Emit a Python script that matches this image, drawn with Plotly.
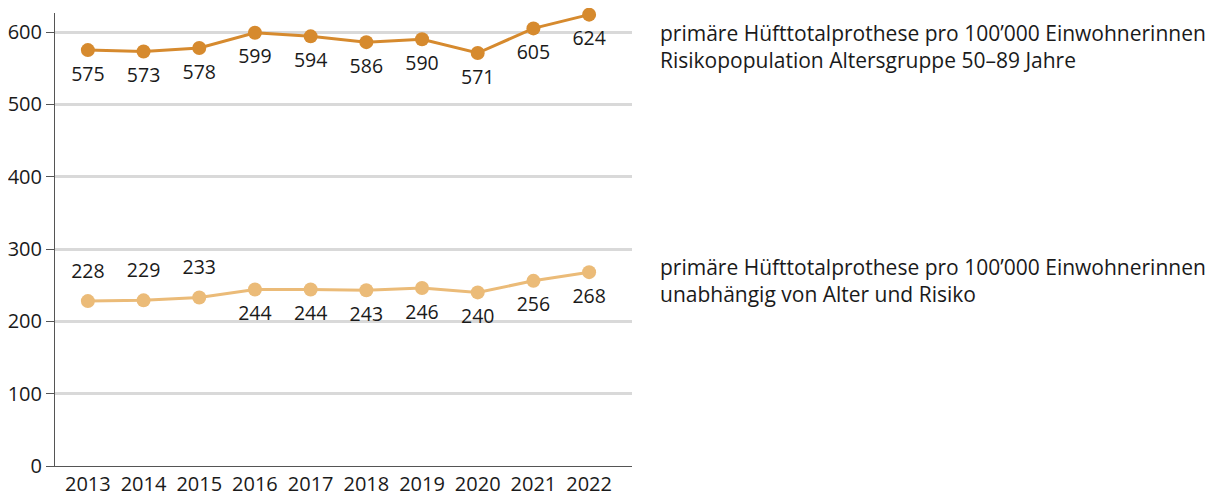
import plotly.graph_objects as go

years = [2013, 2014, 2015, 2016, 2017, 2018, 2019, 2020, 2021, 2022]
risk_pop = [575, 573, 578, 599, 594, 586, 590, 571, 605, 624]
all_pop = [228, 229, 233, 244, 244, 243, 246, 240, 256, 268]
all_pop_label_pos = ["top center"] * 3 + ["bottom center"] * 7

label_risk = "primäre Hüfttotalprothese pro 100’000 Einwohnerinnen<br>Risikopopulation Altersgruppe 50–89 Jahre"
label_all = "primäre Hüfttotalprothese pro 100’000 Einwohnerinnen<br>unabhängig von Alter und Risiko"

dark = "#D68A2E"
light = "#EBBB78"
font_family = "Open Sans"
text_color = "#1a1a1a"
label_font = dict(size=19.5, color=text_color, family=font_family)

fig = go.Figure()
# lines with markers
fig.add_trace(go.Scatter(
    x=years, y=risk_pop, mode="lines+markers",
    line=dict(color=dark, width=3), marker=dict(color=dark, size=14),
    cliponaxis=False, showlegend=False, hoverinfo="x+y"))
fig.add_trace(go.Scatter(
    x=years, y=all_pop, mode="lines+markers",
    line=dict(color=light, width=3), marker=dict(color=light, size=14),
    cliponaxis=False, showlegend=False, hoverinfo="x+y"))
# value labels (invisible spacer markers control the label distance)
fig.add_trace(go.Scatter(
    x=years, y=risk_pop, mode="markers+text",
    marker=dict(size=24, opacity=0),
    text=[str(v) for v in risk_pop], textposition="bottom center",
    textfont=label_font, cliponaxis=False, showlegend=False, hoverinfo="skip"))
fig.add_trace(go.Scatter(
    x=years, y=all_pop, mode="markers+text",
    marker=dict(size=[28 if p.startswith("top") else 24 for p in all_pop_label_pos], opacity=0),
    text=[str(v) for v in all_pop], textposition=all_pop_label_pos,
    textfont=label_font, cliponaxis=False, showlegend=False, hoverinfo="skip"))

fig.add_annotation(text=label_risk, xref="paper", yref="y", x=1.045, y=580,
                   xanchor="left", yanchor="middle", align="left", showarrow=False,
                   font=dict(size=21, color=text_color, family=font_family))
fig.add_annotation(text=label_all, xref="paper", yref="y", x=1.045, y=257,
                   xanchor="left", yanchor="middle", align="left", showarrow=False,
                   font=dict(size=21, color=text_color, family=font_family))

fig.update_layout(
    width=1207, height=489,
    margin=dict(l=47, r=583, t=5, b=31),
    plot_bgcolor="white", paper_bgcolor="white",
    font=dict(family=font_family, size=20, color=text_color),
    xaxis=dict(range=[2012.41, 2022.77], tickmode="array", tickvals=years,
               ticktext=[str(y) for y in years], showgrid=False, zeroline=False,
               showline=True, linecolor="#555555", linewidth=1, ticks="",
               automargin=False,
               tickfont=dict(size=20, color=text_color)),
    yaxis=dict(range=[0, 626.3], tickvals=[0, 100, 200, 300, 400, 500, 600],
               showgrid=True, gridcolor="#D9D9D9", gridwidth=3, zeroline=False,
               showline=True, linecolor="#555555", linewidth=1,
               ticks="outside", ticklen=8, tickcolor="#555555",
               automargin=False,
               tickfont=dict(size=20, color=text_color)),
)

fig.write_html("out.html")
